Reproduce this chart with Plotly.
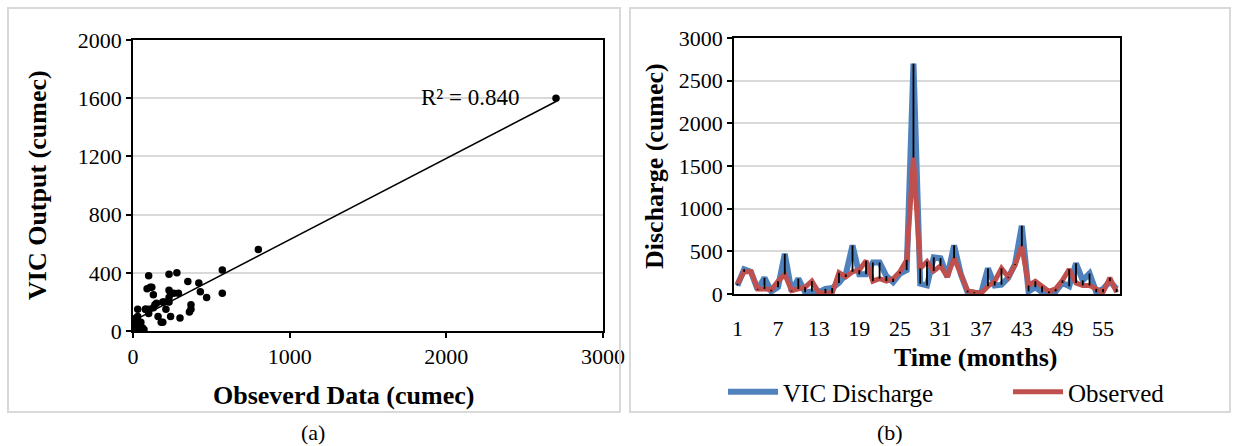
import numpy as np
import plotly.graph_objects as go

W, H = 1239, 446

months = list(range(1, 58))
vic_discharge = [100, 290, 260, 50, 190, 30, 80, 470, 30, 180, 20, 30, 20, 60, 70, 130, 230, 570, 230, 230,
                 370, 370, 210, 140, 240, 280, 2700, 120, 100, 430, 420, 200, 570, 230, 20, 10, 10, 300, 100, 110,
                 190, 350, 800, 30, 80, 20, 10, 30, 130, 90, 360, 160, 240, 20, 60, 150, 60]
observed = [120, 260, 260, 60, 60, 50, 150, 230, 40, 60, 80, 150, 20, 10, 10, 250, 200, 260, 280, 390,
            150, 180, 150, 180, 260, 400, 1600, 300, 380, 270, 330, 200, 420, 230, 40, 20, 10, 90, 150, 300,
            200, 340, 560, 100, 150, 90, 30, 60, 160, 290, 130, 100, 100, 60, 20, 190, 20]

x_ticks_a = [0, 1000, 2000, 3000]
y_ticks_a = [0, 400, 800, 1200, 1600, 2000]
y_ticks_b = [0, 500, 1000, 1500, 2000, 2500, 3000]
x_ticks_b = [1, 7, 13, 19, 25, 31, 37, 43, 49, 55]
r2_label = "R² = 0.840"

FONT = "Liberation Serif"
BLUE = "#4F81BD"
RED = "#C0504D"
GRID = "#D9D9D9"


def px(x):
    return x / W


def py(y):
    return 1 - y / H


fig = go.Figure()

# (a) scatter
fig.add_trace(go.Scatter(x=vic_discharge, y=observed, mode="markers",
                         marker=dict(color="black", size=7.5), showlegend=False,
                         xaxis="x", yaxis="y"))
slope, intercept = np.polyfit(vic_discharge, observed, 1)
xs = [min(vic_discharge), max(vic_discharge)]
fig.add_trace(go.Scatter(x=xs, y=[slope * v + intercept for v in xs], mode="lines",
                         line=dict(color="black", width=1.5), showlegend=False,
                         xaxis="x", yaxis="y"))

# (b) time series
fig.add_trace(go.Scatter(x=months, y=vic_discharge, mode="lines", name="VIC Discharge",
                         line=dict(color=BLUE, width=6), xaxis="x2", yaxis="y2", legend="legend"))
fig.add_trace(go.Scatter(x=months, y=observed, mode="lines", name="Observed",
                         line=dict(color=RED, width=5), xaxis="x2", yaxis="y2", legend="legend2"))
hx, hy = [], []
for m, a, b in zip(months, vic_discharge, observed):
    hx += [m, m, None]
    hy += [a, b, None]
fig.add_trace(go.Scatter(x=hx, y=hy, mode="lines", line=dict(color="black", width=1.8),
                         showlegend=False, xaxis="x2", yaxis="y2"))

axis_common = dict(showline=True, linecolor="black", linewidth=1.5, mirror=True,
                   ticks="outside", ticklen=5, tickcolor="black", tickwidth=1.5,
                   tickfont=dict(family=FONT, size=22, color="black"), zeroline=False)

legend_common = dict(orientation="h", yanchor="middle", xanchor="left",
                     font=dict(family=FONT, size=25, color="black"), itemwidth=50,
                     bgcolor="rgba(0,0,0,0)", borderwidth=0)

fig.update_layout(
    width=W, height=H, margin=dict(l=0, r=0, t=0, b=0, autoexpand=False),
    paper_bgcolor="white", plot_bgcolor="white",
    xaxis=dict(domain=[px(133), px(603)], range=[0, 3000], tickvals=x_ticks_a,
               showgrid=False, anchor="y", **axis_common),
    yaxis=dict(domain=[py(331), py(40)], range=[0, 2000], tickvals=y_ticks_a,
               showgrid=True, gridcolor=GRID, gridwidth=1.5, anchor="x", **axis_common),
    xaxis2=dict(domain=[px(734), px(1120)], range=[0.5, 57.5], tickvals=x_ticks_b,
                showgrid=False, anchor="y2", ticklabelstandoff=14,
                **{**axis_common, "ticks": ""}),
    yaxis2=dict(domain=[py(294), py(38)], range=[0, 3000], tickvals=y_ticks_b,
                showgrid=True, gridcolor=GRID, gridwidth=1.5, anchor="x2", **axis_common),
    legend=dict(x=px(723), y=py(392), **legend_common),
    legend2=dict(x=px(1008), y=py(392), **legend_common),
    showlegend=True,
)

ann = []
ann.append(dict(text="<b>VIC Output (cumec)</b>", x=px(37), y=py(185), textangle=-90,
                font=dict(family=FONT, size=26, color="black")))
ann.append(dict(text="<b>Obseverd Data (cumec)</b>", x=px(343), y=py(395),
                font=dict(family=FONT, size=26, color="black")))
ann.append(dict(text="<b>Discharge (cumec)</b>", x=px(655), y=py(166), textangle=-90,
                font=dict(family=FONT, size=26, color="black")))
ann.append(dict(text="<b>Time (months)</b>", x=px(975), y=py(357),
                font=dict(family=FONT, size=26, color="black")))
ann.append(dict(text=r2_label, x=px(470), y=py(98),
                font=dict(family=FONT, size=23, color="black")))
ann.append(dict(text="(a)", x=px(313), y=py(432), font=dict(family=FONT, size=22, color="black")))
ann.append(dict(text="(b)", x=px(890), y=py(432), font=dict(family=FONT, size=22, color="black")))
for a in ann:
    a.update(xref="paper", yref="paper", showarrow=False, xanchor="center", yanchor="middle")
fig.update_layout(annotations=ann)

fig.update_layout(shapes=[
    dict(type="rect", xref="paper", yref="paper", x0=px(8), x1=px(620), y0=py(412), y1=py(8),
         line=dict(color=GRID, width=2)),
    dict(type="rect", xref="paper", yref="paper", x0=px(630), x1=px(1230), y0=py(412), y1=py(8),
         line=dict(color=GRID, width=2)),
])

fig.write_html("out.html")
